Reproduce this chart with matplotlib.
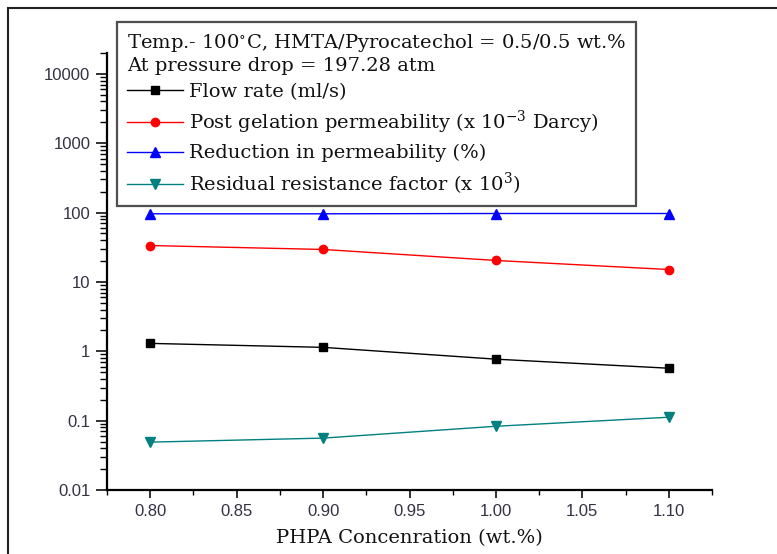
import matplotlib
matplotlib.use("Agg")
import matplotlib.pyplot as plt
from matplotlib.patches import Rectangle
from matplotlib.ticker import LogLocator, FixedLocator, NullFormatter, FuncFormatter

conc = [0.80, 0.90, 1.00, 1.10]
flow_rate = [1.30, 1.14, 0.77, 0.57]
post_perm = [33.5, 29.4, 20.4, 15.1]
reduction = [96, 96, 97, 97]
rrf = [0.049, 0.056, 0.083, 0.112]

xticks = [0.80, 0.85, 0.90, 0.95, 1.00, 1.05, 1.10]
yticks = [0.01, 0.1, 1, 10, 100, 1000, 10000]
ytick_labels = ["0.01", "0.1", "1", "10", "100", "1000", "10000"]

labels = ["Flow rate (ml/s)",
          "Post gelation permeability (x 10$^{-3}$ Darcy)",
          "Reduction in permeability (%)",
          "Residual resistance factor (x 10$^{3}$)"]
header = "Temp.- 100$^{\\circ}$C, HMTA/Pyrocatechol = 0.5/0.5 wt.%\nAt pressure drop = 197.28 atm"

plt.rcParams['mathtext.fontset'] = 'dejavuserif'
W, H = 777, 554
fig = plt.figure(figsize=(W / 100, H / 100), dpi=100)
ax = fig.add_axes([107 / W, 1 - 490 / H, (712 - 107) / W, (490 - 53) / H])

ax.plot(conc, flow_rate, color="black", marker="s", ms=6, lw=1, label=labels[0])
ax.plot(conc, post_perm, color="red", marker="o", ms=6, lw=1, label=labels[1])
ax.plot(conc, reduction, color="blue", marker="^", ms=7, lw=1, label=labels[2])
ax.plot(conc, rrf, color="#008080", marker="v", ms=7, lw=1, label=labels[3])

ax.set_yscale("log")
ax.set_ylim(0.01, 20000)
ax.set_xlim(0.775, 1.125)
ax.yaxis.set_major_locator(FixedLocator(yticks))
ax.yaxis.set_major_formatter(FuncFormatter(lambda v, p: ytick_labels[yticks.index(v)] if v in yticks else ""))
ax.yaxis.set_minor_locator(LogLocator(base=10, subs=range(2, 10), numticks=20))
ax.yaxis.set_minor_formatter(NullFormatter())
ax.xaxis.set_major_locator(FixedLocator(xticks))
ax.xaxis.set_minor_locator(FixedLocator([0.775 + 0.05 * i for i in range(8)]))
ax.set_xticklabels([f"{v:.2f}" for v in xticks])

for s in ["top", "right"]:
    ax.spines[s].set_visible(False)
for s in ["left", "bottom"]:
    ax.spines[s].set_linewidth(1.6)
ax.tick_params(which="major", direction="out", width=1.3, labelsize=12, colors="#222222")
ax.tick_params(axis="y", which="major", length=8, pad=4)
ax.tick_params(axis="x", which="major", length=6, pad=4)
ax.tick_params(axis="y", which="minor", direction="out", length=5, width=1.0)
ax.tick_params(axis="x", which="minor", direction="out", length=3.5, width=1.0)
for lab in ax.get_xticklabels() + ax.get_yticklabels():
    lab.set_fontfamily("Liberation Sans")
    lab.set_color("#333344")

ax.set_xlabel("PHPA Concenration (wt.%)", fontfamily="DejaVu Serif", fontsize=14,
              va="center", color="#111111")
ax.xaxis.set_label_coords((409 - 107) / 605, (490 - 538) / 437)

leg = ax.legend(loc="upper left", bbox_to_anchor=(117 / W, 1 - 22 / H),
                bbox_transform=fig.transFigure, title=header, alignment="left",
                prop={"family": "DejaVu Serif", "size": 14},
                title_fontproperties={"family": "DejaVu Serif", "size": 14},
                frameon=True, fancybox=False, edgecolor="#222222",
                handlelength=2.9, handletextpad=0.3, borderpad=0.5,
                labelspacing=0.42, borderaxespad=0)
leg.get_frame().set_linewidth(1.6)
for t in leg.get_texts():
    t.set_color("#111111")
leg.get_title().set_color("#111111")

fig.patches.append(Rectangle((8 / W, -0.1), 1.2, 1 - 8 / H + 0.1, transform=fig.transFigure,
                             fill=False, edgecolor="#222222", lw=1.5))

fig.savefig("out.png", dpi=100)
